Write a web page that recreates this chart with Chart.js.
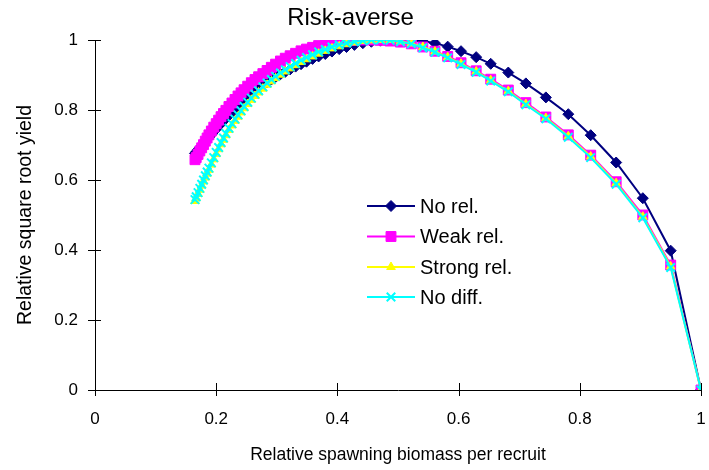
<!DOCTYPE html>
<html>
<head>
<meta charset="utf-8">
<script src="https://cdn.jsdelivr.net/npm/chart.js@4.4.0/dist/chart.umd.min.js"></script>
<style>
  body { margin: 0; background: #fff; }
  #wrap { width: 709px; height: 470px; }
</style>
</head>
<body>
<div id="wrap"><canvas id="myChart" width="709" height="470"></canvas></div>
<script>
// relative spawning biomass per recruit (shared by all four series)
const spr = [0.165, 0.167, 0.170, 0.173, 0.176, 0.179, 0.182, 0.185, 0.188, 0.192,
    0.196, 0.200, 0.204, 0.208, 0.212, 0.216, 0.221, 0.226, 0.231, 0.236,
    0.241, 0.246, 0.252, 0.258, 0.264, 0.270, 0.277, 0.284, 0.291, 0.298,
    0.306, 0.314, 0.322, 0.331, 0.340, 0.349, 0.359, 0.369, 0.380, 0.391,
    0.403, 0.415, 0.428, 0.442, 0.456, 0.471, 0.487, 0.504, 0.522, 0.541,
    0.561, 0.582, 0.604, 0.629, 0.653, 0.682, 0.711, 0.744, 0.781, 0.818,
    0.860, 0.904, 0.950, 1.0];

const noRel = [0.676, 0.680, 0.686, 0.692, 0.698, 0.704, 0.710, 0.716, 0.722, 0.730,
    0.738, 0.746, 0.754, 0.762, 0.769, 0.776, 0.785, 0.794, 0.803, 0.811,
    0.819, 0.827, 0.836, 0.845, 0.853, 0.861, 0.870, 0.879, 0.887, 0.894,
    0.902, 0.909, 0.916, 0.924, 0.931, 0.938, 0.946, 0.953, 0.960, 0.967,
    0.974, 0.980, 0.986, 0.991, 0.995, 0.998, 1.0, 1.0, 1.0, 0.997,
    0.991, 0.981, 0.968, 0.951, 0.932, 0.907, 0.876, 0.836, 0.788, 0.728,
    0.650, 0.548, 0.398, 0];

const weakRel = [0.658, 0.664, 0.673, 0.683, 0.692, 0.701, 0.711, 0.720, 0.729, 0.740,
    0.751, 0.761, 0.771, 0.781, 0.790, 0.799, 0.810, 0.820, 0.830, 0.840,
    0.849, 0.858, 0.868, 0.878, 0.887, 0.895, 0.904, 0.913, 0.922, 0.931,
    0.940, 0.948, 0.955, 0.962, 0.969, 0.974, 0.979, 0.984, 0.988, 0.991,
    0.994, 0.997, 0.999, 1.0, 1.0, 0.999, 0.997, 0.994, 0.989, 0.980,
    0.968, 0.953, 0.935, 0.912, 0.888, 0.857, 0.821, 0.780, 0.729, 0.671,
    0.595, 0.500, 0.357, 0];

const strongRel = [0.540, 0.548, 0.560, 0.572, 0.584, 0.596, 0.607, 0.618, 0.629, 0.644,
    0.659, 0.674, 0.688, 0.702, 0.715, 0.728, 0.743, 0.756, 0.769, 0.781,
    0.793, 0.805, 0.817, 0.829, 0.840, 0.850, 0.861, 0.872, 0.882, 0.891,
    0.901, 0.910, 0.919, 0.928, 0.937, 0.945, 0.953, 0.961, 0.969, 0.976,
    0.982, 0.988, 0.993, 0.997, 0.999, 1.0, 1.0, 0.996, 0.990, 0.980,
    0.967, 0.951, 0.932, 0.910, 0.885, 0.854, 0.817, 0.777, 0.725, 0.667,
    0.591, 0.495, 0.353, 0];

const noDiff = [0.544, 0.552, 0.564, 0.576, 0.588, 0.600, 0.612, 0.623, 0.634, 0.649,
    0.664, 0.679, 0.693, 0.707, 0.720, 0.733, 0.748, 0.761, 0.774, 0.786,
    0.798, 0.810, 0.822, 0.834, 0.845, 0.855, 0.866, 0.877, 0.887, 0.896,
    0.906, 0.915, 0.924, 0.933, 0.942, 0.950, 0.958, 0.966, 0.973, 0.980,
    0.986, 0.991, 0.995, 0.998, 1.0, 1.0, 0.999, 0.995, 0.989, 0.978,
    0.965, 0.949, 0.930, 0.908, 0.883, 0.852, 0.815, 0.775, 0.722, 0.664,
    0.588, 0.492, 0.350, 0];

const seriesNames = ['No rel.', 'Weak rel.', 'Strong rel.', 'No diff.'];
const xTickLabels = ['0', '0.2', '0.4', '0.6', '0.8', '1'];
const yTickLabels = ['0', '0.2', '0.4', '0.6', '0.8', '1'];

function pts(ys) {
    return spr.map((x, i) => ({ x: x, y: ys[i] }));
}

const FONT = "'Liberation Sans', Arial, sans-serif";

// Excel-like marker styles
const styles = [
    { color: '#000080', pointStyle: 'rectRot', radius: 5.5, pointBorderWidth: 1 },
    { color: '#FF00FF', pointStyle: 'rect', radius: 7, pointBorderWidth: 1 },
    { color: '#FFFF00', pointStyle: 'triangle', radius: 5, pointBorderWidth: 1 },
    { color: '#00FFFF', pointStyle: 'crossRot', radius: 6, pointBorderWidth: 2 }
];

const allData = [noRel, weakRel, strongRel, noDiff];

const datasets = allData.map((ys, i) => ({
    label: seriesNames[i],
    data: pts(ys),
    borderColor: styles[i].color,
    backgroundColor: styles[i].color,
    borderWidth: 2,
    pointStyle: styles[i].pointStyle,
    pointRadius: styles[i].radius,
    pointBorderWidth: styles[i].pointBorderWidth,
    pointBackgroundColor: styles[i].color,
    pointBorderColor: styles[i].color,
    tension: 0,
    order: 4 - i // first series drawn underneath
}));

// tick marks that cross the axis lines
const crossTicks = {
    id: 'crossTicks',
    afterDraw(chart) {
        const ctx = chart.ctx;
        const xs = chart.scales.x, ys = chart.scales.y;
        const area = chart.chartArea;
        ctx.save();
        ctx.strokeStyle = '#000';
        ctx.lineWidth = 1;
        xs.ticks.forEach(t => {
            const px = Math.round(xs.getPixelForValue(t.value)) + 0.5;
            ctx.beginPath();
            ctx.moveTo(px, area.bottom - 7);
            ctx.lineTo(px, area.bottom + 6);
            ctx.stroke();
        });
        ys.ticks.forEach(t => {
            const py = Math.round(ys.getPixelForValue(t.value)) + 0.5;
            ctx.beginPath();
            ctx.moveTo(area.left - 7, py);
            ctx.lineTo(area.left + 6, py);
            ctx.stroke();
        });
        ctx.restore();
    }
};

// legend box sitting inside the plot
const innerLegend = {
    id: 'innerLegend',
    afterDraw(chart) {
        const ctx = chart.ctx;
        const x0 = 367, x1 = 415, xm = 391, tx = 420;
        const rows = [206, 236.5, 267, 297];
        ctx.save();
        chart.data.datasets.forEach((ds, i) => {
            const y = rows[i];
            ctx.strokeStyle = ds.borderColor;
            ctx.lineWidth = 2;
            ctx.beginPath();
            ctx.moveTo(x0, y);
            ctx.lineTo(x1, y);
            ctx.stroke();
            ctx.fillStyle = ds.pointBackgroundColor;
            ctx.strokeStyle = ds.pointBorderColor;
            ctx.lineWidth = ds.pointBorderWidth;
            Chart.helpers.drawPoint(ctx, {
                pointStyle: ds.pointStyle,
                radius: ds.pointRadius,
                rotation: 0,
                borderWidth: ds.pointBorderWidth
            }, xm, y);
            ctx.fillStyle = '#000';
            ctx.font = '20px ' + FONT;
            ctx.textAlign = 'left';
            ctx.textBaseline = 'middle';
            ctx.fillText(ds.label, tx, y + 1);
        });
        ctx.restore();
    }
};

const ctx = document.getElementById('myChart').getContext('2d');
const myChart = new Chart(ctx, {
    type: 'line',
    data: { datasets: datasets },
    plugins: [crossTicks, innerLegend],
    options: {
        responsive: false,
        animation: false,
        layout: { padding: { left: 0, right: 8, top: 0, bottom: 0 } },
        plugins: {
            legend: { display: false },
            tooltip: { enabled: false },
            title: {
                display: true,
                text: 'Risk-averse',
                color: '#000',
                font: { family: FONT, size: 24, weight: 'normal' },
                padding: { top: 4, bottom: 7.2 }
            }
        },
        scales: {
            x: {
                type: 'linear',
                min: 0,
                max: 1,
                afterFit(s) {
                    s.height = 80;
                    s.paddingLeft = 0;
                    s.paddingRight = 0;
                },
                grid: { display: false, drawTicks: false },
                border: { display: true, color: '#000', width: 1 },
                ticks: {
                    stepSize: 0.2,
                    padding: 19,
                    color: '#000',
                    font: { family: FONT, size: 17 },
                    callback: (v) => xTickLabels[Math.round(v / 0.2)]
                },
                title: {
                    display: true,
                    text: 'Relative spawning biomass per recruit',
                    color: '#000',
                    font: { family: FONT, size: 17.5 },
                    padding: { top: 0, bottom: 4.5 }
                }
            },
            y: {
                type: 'linear',
                min: 0,
                max: 1,
                afterFit(s) { s.width = 95; },
                grid: { display: false, drawTicks: false },
                border: { display: true, color: '#000', width: 1 },
                ticks: {
                    stepSize: 0.2,
                    padding: 17,
                    color: '#000',
                    font: { family: FONT, size: 17 },
                    callback: (v) => yTickLabels[Math.round(v / 0.2)]
                },
                title: {
                    display: true,
                    text: 'Relative square root yield',
                    color: '#000',
                    font: { family: FONT, size: 19.5 },
                    padding: { top: 14, bottom: 0 }
                }
            }
        }
    }
});
</script>
</body>
</html>
